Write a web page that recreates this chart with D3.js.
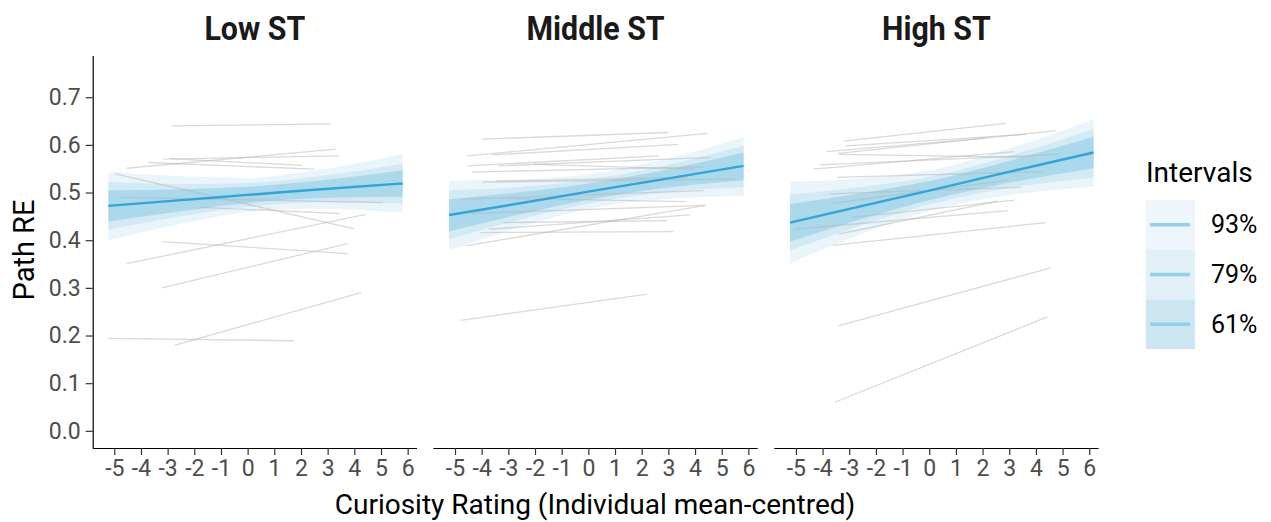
<!DOCTYPE html>
<html>
<head>
<meta charset="utf-8">
<script src="https://cdn.jsdelivr.net/npm/d3@7"></script>
<style>
  html, body { margin: 0; padding: 0; background: #fff; }
  svg { display: block; font-family: Roboto, "Noto Sans", sans-serif; }
</style>
</head>
<body>
<svg id="chart" width="1271" height="522"></svg>
<script>
// ---------------- data ----------------
const facets = ["Low ST", "Middle ST", "High ST"];
const xTicks = [-5, -4, -3, -2, -1, 0, 1, 2, 3, 4, 5, 6];
const yTicks = [0, 0.1, 0.2, 0.3, 0.4, 0.5, 0.6, 0.7];
const intervalLabels = ["93%", "79%", "61%"];

// fitted rows: [x, mean, lo93, hi93, lo79, hi79, lo61, hi61]
const fitLow = [
  [-5.22, 0.472, 0.400, 0.544, 0.422, 0.522, 0.439, 0.505],
  [-2.5,  0.484, 0.434, 0.534, 0.450, 0.518, 0.461, 0.507],
  [0,     0.495, 0.459, 0.531, 0.470, 0.520, 0.478, 0.512],
  [2.5,   0.506, 0.466, 0.546, 0.479, 0.533, 0.488, 0.524],
  [5.81,  0.519, 0.458, 0.581, 0.477, 0.561, 0.491, 0.547]
];
const fitMiddle = [
  [-5.22, 0.453, 0.379, 0.525, 0.402, 0.505, 0.419, 0.486],
  [-2.5,  0.478, 0.428, 0.528, 0.444, 0.512, 0.455, 0.501],
  [0,     0.502, 0.466, 0.538, 0.477, 0.527, 0.485, 0.519],
  [2.5,   0.525, 0.485, 0.565, 0.498, 0.552, 0.507, 0.543],
  [5.82,  0.556, 0.493, 0.616, 0.511, 0.598, 0.526, 0.584]
];
const fitHigh = [
  [-5.22, 0.437, 0.351, 0.523, 0.378, 0.496, 0.397, 0.476],
  [-2.5,  0.472, 0.414, 0.530, 0.432, 0.512, 0.445, 0.499],
  [0,     0.504, 0.462, 0.546, 0.475, 0.533, 0.484, 0.524],
  [2.5,   0.537, 0.490, 0.584, 0.505, 0.569, 0.515, 0.559],
  [6.16,  0.584, 0.512, 0.654, 0.531, 0.633, 0.551, 0.617]
];

// individual lines: [x1, y1, x2, y2]
const subjLow = [
  [-2.85, 0.640, 3.11, 0.644],
  [-4.54, 0.551, 3.30, 0.591],
  [-3.16, 0.570, 3.44, 0.577],
  [-3.73, 0.563, 2.50, 0.549],
  [-2.91, 0.571, 2.06, 0.557],
  [-4.97, 0.539, 4.00, 0.424],
  [-4.54, 0.351, 4.44, 0.454],
  [-3.22, 0.397, 3.75, 0.372],
  [-3.22, 0.300, 3.75, 0.393],
  [-2.72, 0.180, 4.25, 0.290],
  [-5.22, 0.194, 1.75, 0.189],
  [-4.72, 0.490, 5.06, 0.479],
  [-1.79, 0.469, 3.44, 0.456]
];
const subjMiddle = [
  [-3.97, 0.612, 3.00, 0.626],
  [-4.54, 0.577, 4.46, 0.624],
  [-3.60, 0.579, 3.38, 0.601],
  [-4.54, 0.556, 2.65, 0.577],
  [-3.35, 0.556, 4.59, 0.574],
  [-4.35, 0.543, 4.34, 0.554],
  [-2.04, 0.559, 3.96, 0.549],
  [-3.97, 0.522, 5.53, 0.528],
  [-3.47, 0.524, 3.71, 0.532],
  [-4.72, 0.486, 4.34, 0.504],
  [-3.04, 0.488, 3.65, 0.481],
  [-4.60, 0.388, 4.38, 0.473],
  [-3.16, 0.437, 2.96, 0.441],
  [-3.73, 0.423, 3.81, 0.453],
  [-4.04, 0.416, 3.19, 0.418],
  [-4.35, 0.456, 4.38, 0.473],
  [-4.79, 0.232, 2.21, 0.287]
];
const subjHigh = [
  [-3.23, 0.608, 2.87, 0.645],
  [-3.13, 0.598, 3.62, 0.622],
  [-3.85, 0.586, 2.10, 0.614],
  [-3.41, 0.582, 4.75, 0.630],
  [-4.35, 0.549, 3.19, 0.586],
  [-4.10, 0.558, 4.81, 0.580],
  [-3.38, 0.580, 3.56, 0.574],
  [-3.46, 0.532, 4.25, 0.544],
  [-3.75, 0.497, 3.44, 0.511],
  [-3.69, 0.477, 2.94, 0.526],
  [-3.38, 0.413, 2.56, 0.482],
  [-5.06, 0.423, 2.94, 0.462],
  [-3.62, 0.389, 4.37, 0.437],
  [-3.41, 0.220, 4.55, 0.342],
  [-3.54, 0.060, 4.43, 0.239],
  [-2.87, 0.448, 3.19, 0.484]
];

const fits = [fitLow, fitMiddle, fitHigh];
const subjects = [subjLow, subjMiddle, subjHigh];

// ---------------- layout ----------------
const svg = d3.select("#chart");
const panelLefts = [92.7, 433.4, 774.3];
const panelW = 324.3;
const plotTop = 56, plotBottom = 448;
const y = d3.scaleLinear().domain([-0.036, 0.7865]).range([plotBottom, plotTop]);

const ribbonCols = ["#eaf5fb", "#d3eaf5", "#abd8eb"];
const keyCols = ["#eef6fb", "#e2f1f8", "#cce7f2"];
const lineCol = "#2ea6da";

function label(g, x, yy, str, size, opts = {}) {
  const sx = opts.sx || 1;
  return g.append("text")
    .attr("transform", `translate(${x},${yy}) scale(${sx},1)`)
    .attr("text-anchor", opts.anchor || "middle")
    .attr("font-size", size)
    .attr("font-weight", opts.weight || "normal")
    .attr("fill", opts.fill || "#000")
    .attr("dominant-baseline", opts.baseline || "auto")
    .text(str);
}

facets.forEach((name, i) => {
  const left = panelLefts[i];
  const x = d3.scaleLinear().domain([-5.81, 6.35]).range([left, left + panelW]);
  const g = svg.append("g");
  const data = fits[i];

  // ribbons (outer to inner)
  [[2, 3], [4, 5], [6, 7]].forEach((idx, k) => {
    const area = d3.area()
      .x(d => x(d[0]))
      .y0(d => y(d[idx[0]]))
      .y1(d => y(d[idx[1]]))
      .curve(d3.curveMonotoneX);
    g.append("path").datum(data).attr("d", area).attr("fill", ribbonCols[k]);
  });

  // subject lines
  g.selectAll("line.subj").data(subjects[i]).join("line")
    .attr("class", "subj")
    .attr("x1", d => x(d[0])).attr("y1", d => y(d[1]))
    .attr("x2", d => x(d[2])).attr("y2", d => y(d[3]))
    .attr("stroke", "#b5b5b5").attr("stroke-opacity", 0.5).attr("stroke-width", 1.3);

  // mean line
  const line = d3.line().x(d => x(d[0])).y(d => y(d[1])).curve(d3.curveMonotoneX);
  g.append("path").datum(data).attr("d", line)
    .attr("fill", "none").attr("stroke", lineCol).attr("stroke-width", 2.4);

  // x axis
  const ax = g.append("g").attr("transform", `translate(0,${plotBottom})`)
    .call(d3.axisBottom(x).tickValues(xTicks).tickSize(7).tickSizeOuter(0).tickFormat(d => String(d)));
  ax.select(".domain").attr("stroke", "#000").attr("stroke-width", 1.2)
    .attr("d", `M${left},0.5H${left + panelW}`);
  ax.selectAll(".tick line").attr("stroke", "#333").attr("stroke-width", 1.2);
  ax.selectAll(".tick text")
    .attr("font-family", "Roboto").attr("font-size", 23).attr("fill", "#4d4d4d")
    .attr("y", 12).attr("dy", "0.71em");

  // facet title
  label(svg, left + panelW / 2, 40, name, 33, { weight: "bold", fill: "#1a1a1a", sx: 0.92 });
});

// y axis
const ay = svg.append("g").attr("transform", `translate(${panelLefts[0]},0)`)
  .call(d3.axisLeft(y).tickValues(yTicks).tickSize(7).tickSizeOuter(0).tickFormat(d => d.toFixed(1)));
ay.select(".domain").attr("stroke", "#000").attr("stroke-width", 1.2)
  .attr("d", `M0.5,${plotTop}V${plotBottom}`);
ay.selectAll(".tick line").attr("stroke", "#333").attr("stroke-width", 1.2);
ay.selectAll(".tick text")
  .attr("font-family", "Roboto").attr("font-size", 23).attr("fill", "#4d4d4d")
  .attr("x", -12);

// axis titles
label(svg, 595, 514, "Curiosity Rating (Individual mean-centred)", 28);
svg.append("text")
  .attr("transform", `translate(34,250) rotate(-90)`)
  .attr("text-anchor", "middle").attr("font-size", 29).attr("fill", "#000")
  .text("Path RE");

// legend
label(svg, 1146, 182, "Intervals", 28, { anchor: "start" });
intervalLabels.forEach((lab, k) => {
  const y0 = 200 + k * 49.7;
  svg.append("rect").attr("x", 1145.7).attr("y", y0).attr("width", 49.3).attr("height", 49.7)
    .attr("fill", keyCols[k]);
  svg.append("line").attr("x1", 1150).attr("x2", 1190).attr("y1", y0 + 24.8).attr("y2", y0 + 24.8)
    .attr("stroke", "#8fd0ea").attr("stroke-width", 3.5);
  label(svg, 1211, y0 + 24.8, lab, 25, { anchor: "start", baseline: "central" });
});
</script>
</body>
</html>
